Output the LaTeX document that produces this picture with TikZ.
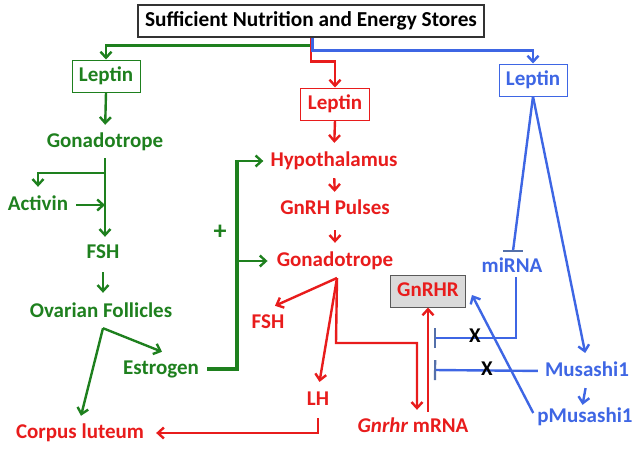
\documentclass[tikz,border=0pt]{standalone}
\usepackage{fontspec}
\setmainfont{Carlito}
\usetikzlibrary{arrows.meta,calc}
\definecolor{gr}{RGB}{30,128,30}
\definecolor{rd}{RGB}{232,28,28}
\definecolor{bl}{RGB}{62,102,228}
\definecolor{bbar}{RGB}{84,112,170}
\definecolor{boxgray}{RGB}{218,218,218}
\begin{document}
\begin{tikzpicture}[x=1pt,y=-1pt,
  lbl/.style={font=\fontsize{21}{24}\selectfont\bfseries, inner sep=0pt, text height=14pt, text depth=4pt},
  lbox/.style={lbl, draw, line width=1pt, minimum width=68pt, minimum height=32pt},
  ln/.style={line width=2.4pt},
  arr/.style={ln, -{Straight Barb[length=6pt,width=11pt]}},
  inh/.style={ln, -{Bar[width=20pt,line width=2.2pt,color=bbar]}},
]
\useasboundingbox (0,0) rectangle (641,450);
% title
\node[lbl, font=\fontsize{21.3}{24}\selectfont\bfseries, draw=black!80, line width=1.2pt, fill=white, minimum width=346pt, minimum height=32pt] (top) at (311,21) {Sufficient Nutrition and Energy Stores};
% leptin boxes
\node[lbox, draw=gr, text=gr] (gL) at (106,76) {Leptin};
\node[lbox, draw=rd, text=rd, minimum width=69pt] (rL) at (335,104) {Leptin};
\node[lbox, draw=bl, text=bl] (bL) at (533,80) {Leptin};
% green labels
\node[lbl, text=gr] (gGon) at (105,142) {Gonadotrope};
\node[lbl, text=gr] (gAct) at (38,205) {Activin};
\node[lbl, text=gr] (gFSH) at (103,253) {FSH};
\node[lbl, text=gr] (gOva) at (101,312) {Ovarian Follicles};
\node[lbl, text=gr] (gEst) at (161,369) {Estrogen};
\node[lbl, text=gr, font=\fontsize{26}{28}\selectfont\bfseries] (plus) at (220,234) {+};
% red labels
\node[lbl, text=rd] (hyp) at (334,161) {Hypothalamus};
\node[lbl, text=rd] (puls) at (335,209) {GnRH Pulses};
\node[lbl, text=rd] (rGon) at (335,261) {Gonadotrope};
\node[lbl, text=rd] (rFSH) at (268,323) {FSH};
\node[lbl, text=rd] (LH) at (318,400) {LH};
\node[lbl, text=rd] (corp) at (80,433) {Corpus luteum};
\node[lbl, text=rd] (mrna) at (413,427) {\textit{Gnrhr} mRNA};
\node[lbl, text=rd, draw=black!65, fill=boxgray, line width=1pt, minimum width=75pt, minimum height=32pt] (gnrhr) at (428,291) {GnRHR};
% blue labels
\node[lbl, text=bl] (mir) at (512,267) {miRNA};
\node[lbl, text=bl] (mus) at (587,371) {Musashi1};
\node[lbl, text=bl] (pmus) at (585,417) {pMusashi1};
% coordinates
\coordinate (apex) at (337,278);
\coordinate (mbar) at (513,251);
\coordinate (ib1) at (434,338);
\coordinate (ib2) at (434,370);
\coordinate (estC) at (237,369);
% top branches
\draw[arr, gr] (top.south) -- ++(0,8) -| (gL.north);
\draw[arr, rd] (top.south) -- ++(0,24) -| (rL.north);
\draw[arr, bl] ([xshift=1.5pt]top.south) -- ++(0,13) -| (bL.north);
% green chain
\draw[arr, gr, shorten >=8pt] (gL.south) -- (gGon.north);
\draw[arr, gr, shorten <=7pt, shorten >=7pt] (gGon.south) -- (gGon.south |- gFSH.north);
\draw[arr, gr] ($(gGon.south)+(0,22)$) -| ($(gAct.north)+(0,-9)$);
\draw[arr, gr, shorten <=8pt] (gAct.east) -- (gAct.east -| gGon.south);
\draw[arr, gr, shorten <=10pt, shorten >=10pt] (gFSH.south) -- (gFSH.south |- gOva.north);
\draw[arr, gr] ($(gOva.south)+(2,7)$) -- ($(gEst.north)+(1,-8)$);
\draw[arr, gr] ($(gOva.south)+(2,7)$) -- ($(corp.north)+(1,-8)$);
\draw[line width=3.6pt, gr] ($(gEst.east)+(8,0)$) -- (estC) -- ($(estC |- hyp.west)+(0,-1.2)$);
\draw[arr, gr, shorten >=7pt] (estC |- hyp.west) -- (hyp.west);
\draw[arr, gr, shorten >=9pt] (estC |- rGon.west) -- (rGon.west);
% red chain
\draw[arr, rd, shorten >=9pt] (rL.south) -- (hyp.north);
\draw[arr, rd, shorten <=8pt, shorten >=8pt] (hyp.south) -- (puls.north);
\draw[arr, rd, shorten <=12pt, shorten >=9pt] (puls.south) -- (rGon.north);
\draw[arr, rd] (apex) -- ($(rFSH.north)+(7,-8)$);
\draw[arr, rd, shorten >=9pt] (apex) -- (LH.north);
\draw[arr, rd, shorten >=8pt] (apex) -- ++(-1,65) -| ($(mrna.north)+(4,0)$);
\draw[arr, rd, shorten <=6pt] (mrna.north -| gnrhr.south) -- (gnrhr.south);
\draw[arr, rd, shorten <=9pt, shorten >=12pt] (LH.south) |- (corp.east);
% blue
\draw[ln, bl] (bL.south) -- (mbar);
\draw[line width=2.2pt, bbar] ($(mbar)+(-10,0)$) -- ($(mbar)+(10,0)$);
\draw[arr, bl, shorten >=9pt] (bL.south) -- (mus.north);
\draw[inh, bl] ($(mir.south)+(4,1)$) |- (ib1);
\draw[inh, bl, shorten <=7pt] (mus.west) -- (ib2);
\draw[arr, bl, shorten <=8pt, shorten >=3pt] (mus.south) -- ($(pmus.north)+(-3,0)$);
\draw[arr, bl] ($(pmus.west)+(-4,-4)$) -- ($(gnrhr.east)+(6,4)$);
% X marks
\node[lbl, font=\fontsize{21}{22}\selectfont\bfseries] (x1) at (475,337) {X};
\node[lbl, font=\fontsize{21}{22}\selectfont\bfseries] (x2) at (487,370) {X};
\end{tikzpicture}
\end{document}
